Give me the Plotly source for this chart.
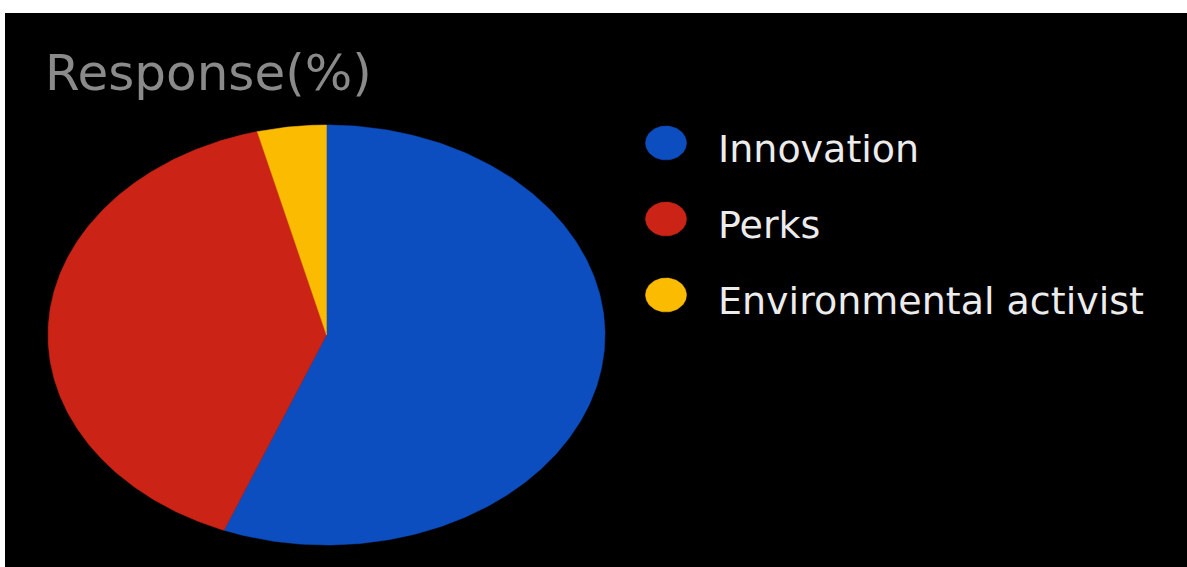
import numpy as np
import plotly.graph_objects as go

# Survey response shares (%)
categories = ["Innovation", "Perks", "Environmental activist"]
shares = [56, 40, 4]
colors = ["#0c4ebf", "#cb2417", "#fbbb00"]
title_text = "Response(%)"

W, H = 1187, 567

# Pie geometry in pixel units (the chart is drawn on a stretched, elliptical pie)
CX, CY, RX, RY = 326.5, 335.0, 278.5, 210.0

# Legend placement
LEG_X, LEG_Y0, LEG_DY = 666, 143, 76
LEG_RX, LEG_RY = 20.5, 17
LEG_TEXT_X = 716

fig = go.Figure()

# Pie wedges, clockwise from 12 o'clock
total = float(sum(shares))
start = 0.0
for name, val, col in zip(categories, shares, colors):
    sweep = val / total * 2 * np.pi
    th = np.linspace(start, start + sweep, 240)
    xs = np.concatenate([[CX], CX + RX * np.sin(th), [CX]])
    ys = np.concatenate([[CY], CY - RY * np.cos(th), [CY]])
    fig.add_trace(go.Scatter(
        x=xs, y=ys, mode="lines", fill="toself", fillcolor=col,
        line=dict(color=col, width=0.5), name=name, showlegend=False,
        hovertemplate=f"{name}: {val}%<extra></extra>",
    ))
    start += sweep

# Legend keys (ellipses) and labels
t = np.linspace(0, 2 * np.pi, 100)
for i, (name, col) in enumerate(zip(categories, colors)):
    cy = LEG_Y0 + i * LEG_DY
    fig.add_trace(go.Scatter(
        x=LEG_X + LEG_RX * np.cos(t), y=cy + LEG_RY * np.sin(t),
        mode="lines", fill="toself", fillcolor=col,
        line=dict(color=col, width=0.5), showlegend=False, hoverinfo="skip",
    ))
    fig.add_annotation(
        x=LEG_TEXT_X, y=cy + 6, xref="x", yref="y", text=name, showarrow=False,
        xanchor="left", yanchor="middle",
        font=dict(family="DejaVu Sans", size=38, color="#ececec"),
    )

fig.add_annotation(
    x=43, y=73, xref="x", yref="y", text=title_text, showarrow=False,
    xanchor="left", yanchor="middle",
    font=dict(family="DejaVu Sans", size=50, color="#8a8a8a"),
)

# Black chart panel on white page
fig.add_shape(type="rect", x0=5, y0=13, x1=W, y1=H, xref="x", yref="y",
              fillcolor="black", line=dict(width=0), layer="below")

fig.update_xaxes(range=[0, W], visible=False, fixedrange=True)
fig.update_yaxes(range=[H, 0], visible=False, fixedrange=True)
fig.update_layout(
    width=W, height=H, margin=dict(l=0, r=0, t=0, b=0),
    paper_bgcolor="white", plot_bgcolor="white", showlegend=False,
)

fig.write_html("out.html")
